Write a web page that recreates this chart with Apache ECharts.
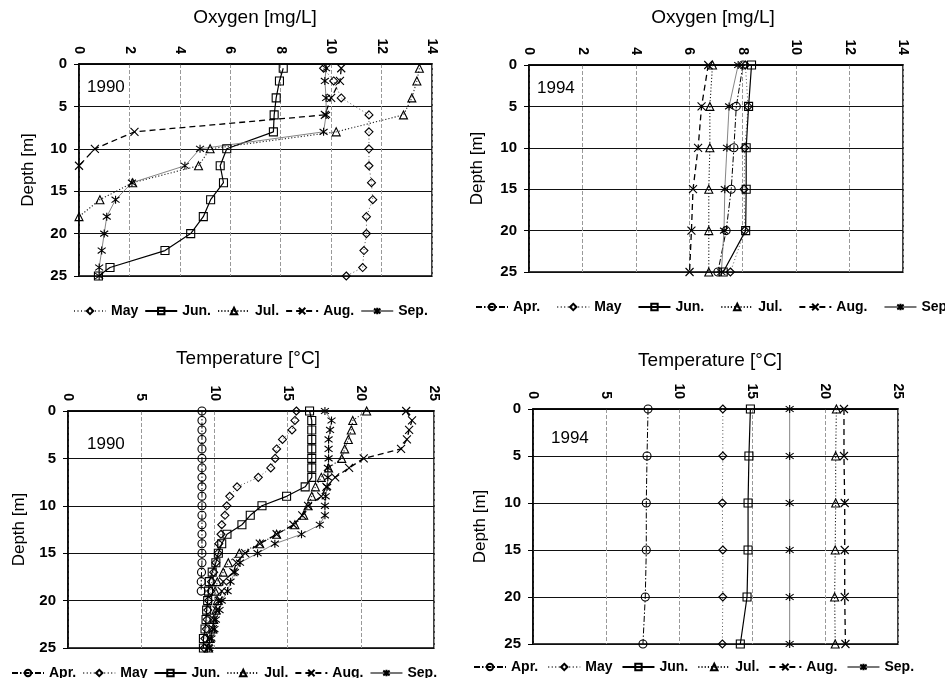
<!DOCTYPE html>
<html><head><meta charset="utf-8">
<script src="https://cdn.jsdelivr.net/npm/echarts@6/dist/echarts.min.js"></script>
<style>html,body{margin:0;padding:0;background:#fff}#c{width:945px;height:678px}</style>
</head><body><div id="c"></div>
<script>
// ---------- data ----------
const MONTHS = ['Apr.', 'May', 'Jun.', 'Jul.', 'Aug.', 'Sep.'];
const O2_TICKS = [0, 2, 4, 6, 8, 10, 12, 14];
const T_TICKS = [0, 5, 10, 15, 20, 25];
const DEPTH_TICKS = [0, 5, 10, 15, 20, 25];

// 1990 oxygen
const D90O_FULL = [0.5, 2, 4, 6, 8, 10, 12, 14, 16, 18, 20, 22, 24, 25];
const D90O_JUL = [0.5, 2, 4, 6, 8, 10, 12, 14, 16, 18];
const D90O_AUG = [0.5, 2, 4, 6, 8, 10, 12];
const O2_1990_MAY = [9.7, 10.1, 10.4, 11.5, 11.5, 11.5, 11.5, 11.6, 11.65, 11.4, 11.4, 11.3, 11.25, 10.6];
const O2_1990_JUN = [8.1, 7.95, 7.82, 7.74, 7.71, 5.86, 5.6, 5.73, 5.22, 4.93, 4.43, 3.41, 1.23, 0.77];
const O2_1990_JUL = [13.5, 13.4, 13.2, 12.87, 10.2, 5.2, 4.74, 2.13, 0.83, 0];
const O2_1990_AUG = [10.4, 10.35, 10.0, 9.75, 2.2, 0.63, 0];
const O2_1990_SEP = [9.8, 9.75, 9.8, 9.8, 9.7, 4.8, 4.2, 2.1, 1.45, 1.1, 1.0, 0.9, 0.8, 0.8];

// 1994 oxygen
const D94 = [0, 5, 10, 15, 20, 25];
const O2_1994_APR = [8.01, 7.76, 7.67, 7.57, 7.38, 7.07];
const O2_1994_MAY = [8.1, 8.2, 8.08, 8.05, 8.08, 7.54];
const O2_1994_JUN = [8.33, 8.22, 8.13, 8.13, 8.11, 7.27];
const O2_1994_JUL = [6.87, 6.77, 6.77, 6.73, 6.73, 6.73];
const O2_1994_AUG = [6.71, 6.46, 6.33, 6.14, 6.08, 6.01];
const O2_1994_SEP = [7.83, 7.49, 7.41, 7.33, 7.3, 7.2];

// 1990 temperature
const D90T = [0,1,2,3,4,5,6,7,8,9,10,11,12,13,14,15,16,17,18,19,20,21,22,23,24,25];
const D90T_APR = [0,1,2,3,4,5,6,7,8,9,10,11,12,13,14,15,16,17,18,19];
const T_1990_APR = [9.15,9.15,9.15,9.15,9.15,9.15,9.15,9.15,9.15,9.15,9.15,9.15,9.15,9.15,9.15,9.15,9.15,9.12,9.1,9.1];
const T_1990_MAY = [15.6,15.5,15.3,14.65,14.25,14.15,13.85,13.0,11.55,11.05,10.85,10.72,10.5,10.45,10.3,10.25,10.1,9.95,9.8,9.75,9.6,9.55,9.5,9.45,9.35,9.3];
const T_1990_JUN = [16.5,16.65,16.65,16.65,16.65,16.65,16.65,16.65,16.2,14.93,13.25,12.45,11.88,10.86,10.5,10.27,10.1,9.85,9.65,9.6,9.54,9.47,9.43,9.36,9.25,9.25];
const T_1990_JUL = [20.4,19.45,19.35,19.15,18.9,18.7,17.8,17.3,16.9,16.65,16.4,16.1,15.5,14.25,13.1,11.7,10.95,10.6,10.2,10.05,10.2,10.1,9.95,9.9,9.7,9.6];
const T_1990_AUG = [23.1,23.5,23.3,23.15,22.75,20.2,19.2,18.25,17.65,17.3,16.4,16.0,15.4,14.25,13.1,12.1,11.5,11.3,10.6,10.5,10.3,10.15,9.97,9.9,9.7,9.6];
const T_1990_SEP = [17.55,18.0,17.9,17.8,17.8,17.8,17.75,17.75,17.7,17.6,17.55,17.55,17.2,15.95,14.13,12.95,11.75,11.4,11.1,10.9,10.5,10.35,10.1,10.0,9.8,9.65];

// 1994 temperature
const T_1994_APR = [7.88, 7.81, 7.76, 7.76, 7.69, 7.53];
const T_1994_MAY = [13.0, 13.0, 12.97, 13.0, 13.0, 12.97];
const T_1994_JUN = [14.89, 14.79, 14.73, 14.73, 14.66, 14.2];
const T_1994_JUL = [20.78, 20.73, 20.73, 20.7, 20.66, 20.7];
const T_1994_AUG = [21.3, 21.3, 21.35, 21.35, 21.35, 21.4];
const T_1994_SEP = [17.58, 17.58, 17.58, 17.58, 17.58, 17.58];

// ---------- styles ----------
const FONT = 'Liberation Sans, Arial, sans-serif';
const STYLE = {
  'Apr.': {symbol: 'circle', line: {color: '#000', width: 1, type: [6, 2, 1.5, 2]}},
  'May':  {symbol: 'diamond', line: {color: '#555', width: 1, type: [1, 2.5]}},
  'Jun.': {symbol: 'rect', line: {color: '#000', width: 1.2, type: 'solid'}},
  'Jul.': {symbol: 'triangle', line: {color: '#222', width: 1.1, type: [1.2, 2]}},
  'Aug.': {symbol: 'path://M0,0L10,10M10,0L0,10', line: {color: '#000', width: 1.3, type: [6, 4]}},
  'Sep.': {symbol: 'path://M1,1L9,9M9,1L1,9M5,-0.5L5,10.5', line: {color: '#777', width: 0.9, type: 'solid'}}
};

function pairs(xs, ds) { return xs.map((v, i) => [v, ds[i]]); }
function mk(name, idx, xs, ds) {
  const s = STYLE[name];
  return {
    type: 'line', name: name, xAxisIndex: idx, yAxisIndex: idx,
    data: pairs(xs, ds), symbol: s.symbol, symbolSize: 8, showAllSymbol: true,
    lineStyle: s.line,
    itemStyle: {color: 'rgba(255,255,255,0)', borderColor: '#000', borderWidth: 1.1},
    emphasis: {disabled: true}, z: 3
  };
}

const grids = [
  {left: 79, top: 64, width: 353, height: 212},
  {left: 529, top: 65, width: 374, height: 207},
  {left: 68, top: 411, width: 366, height: 237},
  {left: 533, top: 409, width: 365, height: 235}
];

function xAx(idx, max, interval) {
  return {
    gridIndex: idx, type: 'value', position: 'top', min: 0, max: max, interval: interval,
    axisLine: {show: true, onZero: false, lineStyle: {color: '#000', width: 1.5}},
    axisTick: {show: false},
    axisLabel: {rotate: 90, margin: 10, color: '#000', fontFamily: FONT, fontSize: 14, fontWeight: 'bold'},
    splitLine: {show: true, lineStyle: {color: '#999', width: 1, type: [4, 2]}}
  };
}
function yAx(idx, gap) {
  return {
    gridIndex: idx, type: 'value', inverse: true, min: 0, max: 25, interval: 5,
    name: 'Depth [m]', nameLocation: 'middle', nameGap: gap, nameRotate: 90,
    nameTextStyle: {color: '#000', fontFamily: FONT, fontSize: 17},
    axisLine: {show: true, onZero: false, lineStyle: {color: '#000', width: 1.5}},
    axisTick: {show: true, length: 5, lineStyle: {color: '#000'}},
    axisLabel: {margin: 12, color: '#000', fontFamily: FONT, fontSize: 15, fontWeight: 'bold'},
    splitLine: {show: true, lineStyle: {color: '#111', width: 1}}
  };
}

function legend(left, top, names, gap) {
  return {
    left: left, top: top, width: 700, orient: 'horizontal', data: names,
    itemWidth: 32, itemHeight: 8, itemGap: gap, selectedMode: false,
    textStyle: {color: '#000', fontFamily: FONT, fontSize: 14, fontWeight: 'bold'}
  };
}

const series = [
  mk('May', 0, O2_1990_MAY, D90O_FULL),
  mk('Jun.', 0, O2_1990_JUN, D90O_FULL),
  mk('Jul.', 0, O2_1990_JUL, D90O_JUL),
  mk('Aug.', 0, O2_1990_AUG, D90O_AUG),
  mk('Sep.', 0, O2_1990_SEP, D90O_FULL),

  mk('Apr.', 1, O2_1994_APR, D94),
  mk('May', 1, O2_1994_MAY, D94),
  mk('Jun.', 1, O2_1994_JUN, D94),
  mk('Jul.', 1, O2_1994_JUL, D94),
  mk('Aug.', 1, O2_1994_AUG, D94),
  mk('Sep.', 1, O2_1994_SEP, D94),

  mk('Apr.', 2, T_1990_APR, D90T_APR),
  mk('May', 2, T_1990_MAY, D90T),
  mk('Jun.', 2, T_1990_JUN, D90T),
  mk('Jul.', 2, T_1990_JUL, D90T),
  mk('Aug.', 2, T_1990_AUG, D90T),
  mk('Sep.', 2, T_1990_SEP, D90T),

  mk('Apr.', 3, T_1994_APR, D94),
  mk('May', 3, T_1994_MAY, D94),
  mk('Jun.', 3, T_1994_JUN, D94),
  mk('Jul.', 3, T_1994_JUL, D94),
  mk('Aug.', 3, T_1994_AUG, D94),
  mk('Sep.', 3, T_1994_SEP, D94)
];

function ttl(text, cx, top) {
  return {text: text, left: cx, top: top, textAlign: 'center', padding: 0,
    textStyle: {color: '#000', fontFamily: FONT, fontSize: 19, fontWeight: 'normal'}};
}
function yr(text, cx, cy) {
  return {type: 'text', left: cx - 20, top: cy - 9,
    style: {text: text, fill: '#000', font: '17px ' + FONT}};
}

const chart = echarts.init(document.getElementById('c'), null, {renderer: 'canvas'});
chart.setOption({
  animation: false,
  backgroundColor: '#fff',
  title: [
    ttl('Oxygen [mg/L]', 255, 8),
    ttl('Oxygen [mg/L]', 713, 8),
    ttl('Temperature [°C]', 248, 349),
    ttl('Temperature [°C]', 710, 351)
  ],
  grid: grids.map(g => Object.assign({show: true, borderColor: '#000', borderWidth: 1.5, backgroundColor: 'transparent'}, g)),
  xAxis: [xAx(0, 14, 2), xAx(1, 14, 2), xAx(2, 25, 5), xAx(3, 25, 5)],
  yAxis: [yAx(0, 42), yAx(1, 43), yAx(2, 40), yAx(3, 44)],
  legend: [
    legend(68, 299, MONTHS.slice(1), 6),
    legend(470, 295, MONTHS, 16),
    legend(6, 661, MONTHS, 6),
    legend(468, 655, MONTHS, 9)
  ],
  graphic: [yr('1990', 107, 88), yr('1994', 557, 89), yr('1990', 107, 445), yr('1994', 571, 439)],
  series: series
});
</script></body></html>
